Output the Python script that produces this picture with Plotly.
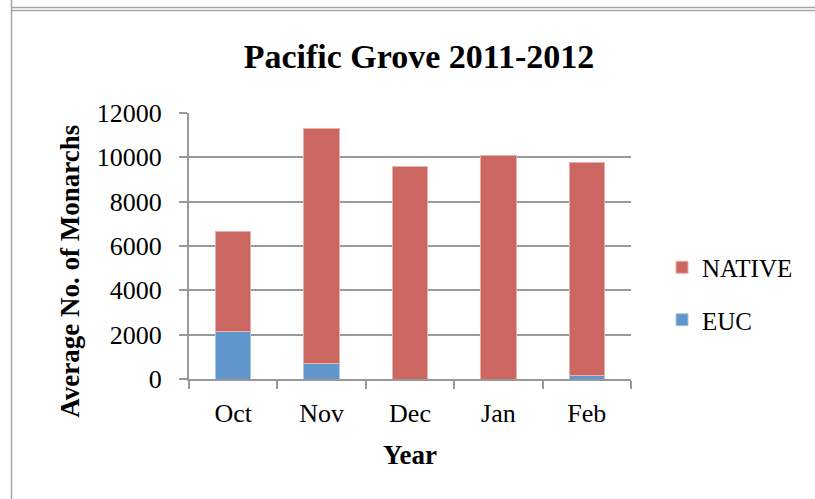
import plotly.graph_objects as go

months = ["Oct", "Nov", "Dec", "Jan", "Feb"]
euc = [2150, 700, 0, 0, 160]
native_total = [6650, 11310, 9580, 10100, 9780]
native = [t - e for t, e in zip(native_total, euc)]
y_ticks = [0, 2000, 4000, 6000, 8000, 10000, 12000]
y_tick_labels = [str(v) for v in y_ticks]

W, H = 815, 499
L, R, T, B = 189, 631, 113, 379
FONT = "Liberation Serif"


def px(xp):
    return (xp - L) / (R - L)


def py(yp):
    return (B - yp) / (B - T)


fig = go.Figure()
fig.add_trace(go.Bar(
    x=months, y=euc, name="EUC", legendrank=2, legendgroup="b",
    marker=dict(color="#6096CC", line=dict(color="#A9C6E6", width=1)),
))
fig.add_trace(go.Bar(
    x=months, y=native, name="NATIVE", legendrank=1, legendgroup="a",
    marker=dict(color="#CC6660", line=dict(color="#E8B0AD", width=1)),
))

grid = "#999999"
fig.update_layout(
    width=W, height=H,
    margin=dict(l=L, r=W - R, t=T, b=H - B, pad=0),
    barmode="stack", bargap=0.6,
    paper_bgcolor="white", plot_bgcolor="white",
    font=dict(family=FONT, size=26, color="black"),
    title=dict(text="<b>Pacific Grove 2011-2012</b>", x=419 / W, xanchor="center",
               y=1 - 56 / H, yanchor="middle", yref="container",
               font=dict(family=FONT, size=34, color="black")),
    showlegend=True,
    legend=dict(x=px(662), xanchor="left", y=py(293.5), yanchor="middle",
                traceorder="grouped", tracegroupgap=17,
                font=dict(family=FONT, size=25, color="black"),
                bgcolor="rgba(0,0,0,0)"),
    xaxis=dict(type="category", showline=True, linecolor=grid, linewidth=2,
               ticks="outside", tickson="boundaries", ticklen=8, tickcolor=grid,
               tickwidth=2, showgrid=False, tickfont=dict(size=26),
               ticklabelstandoff=10),
    yaxis=dict(range=[0, 12000], tickmode="array", tickvals=y_ticks,
               ticktext=y_tick_labels, showline=True, linecolor=grid,
               linewidth=2, ticks="outside", ticklen=8, tickcolor=grid, tickwidth=2,
               showgrid=True, gridcolor=grid, gridwidth=2, zeroline=False,
               tickfont=dict(size=26), ticklabelstandoff=12),
    annotations=[
        dict(text="<b>Year</b>", x=px(409.5), y=py(455), xref="paper", yref="paper",
             xanchor="center", yanchor="middle", showarrow=False,
             font=dict(family=FONT, size=27, color="black")),
        dict(text="<b>Average No. of Monarchs</b>", x=px(70), y=py(271.7),
             xref="paper", yref="paper", xanchor="center", yanchor="middle",
             textangle=-90, showarrow=False,
             font=dict(family=FONT, size=27, color="black")),
    ],
    shapes=[
        dict(type="line", xref="paper", yref="paper", x0=px(11.5), x1=px(11.5),
             y0=py(0), y1=py(H), line=dict(color="#A6A6A6", width=1.5)),
        dict(type="line", xref="paper", yref="paper", x0=px(11), x1=px(W),
             y0=py(7.5), y1=py(7.5), line=dict(color="#A6A6A6", width=1.5)),
        dict(type="line", xref="paper", yref="paper", x0=px(11), x1=px(W),
             y0=py(10.5), y1=py(10.5), line=dict(color="#A6A6A6", width=1.5)),
    ],
)

fig.write_html("out.html", config={"displayModeBar": False},
               post_script="document.body.style.margin='0';document.body.style.padding='0';")
